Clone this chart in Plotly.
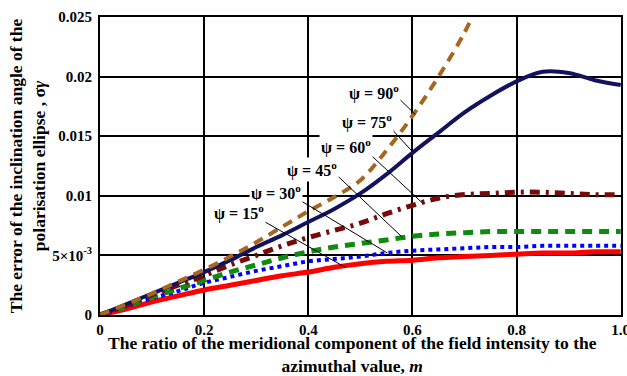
import plotly.graph_objects as go

m = [0, 0.05, 0.1, 0.15, 0.2, 0.25, 0.3, 0.35, 0.4, 0.45, 0.5, 0.55, 0.6, 0.65, 0.7, 0.75, 0.8, 0.85, 0.9, 0.95, 1.0]
m90 = [0, 0.05, 0.1, 0.15, 0.2, 0.25, 0.3, 0.35, 0.4, 0.45, 0.5, 0.55, 0.6, 0.65, 0.7, 0.73]
psi90 = [0, 0.0009, 0.0018, 0.0028, 0.0038, 0.0049, 0.0061, 0.0074, 0.0087, 0.0099, 0.0113, 0.0138, 0.0167, 0.0200, 0.0237, 0.0265]
psi75 = [0, 0.0009, 0.0018, 0.0027, 0.0036, 0.0046, 0.0057, 0.0067, 0.0078, 0.0089, 0.0102, 0.0118, 0.0136, 0.0153, 0.0170, 0.0184, 0.0196, 0.0204, 0.0203, 0.0197, 0.0193]
psi60 = [0, 0.0008, 0.0017, 0.0025, 0.0033, 0.0042, 0.0050, 0.0058, 0.0065, 0.0071, 0.0077, 0.0085, 0.0092, 0.0098, 0.0101, 0.0102, 0.0103, 0.0103, 0.0102, 0.0101, 0.0101]
psi45 = [0, 0.0007, 0.0015, 0.0022, 0.0029, 0.0036, 0.0042, 0.0048, 0.0053, 0.0057, 0.0060, 0.0063, 0.0066, 0.0068, 0.0069, 0.0070, 0.0070, 0.0070, 0.0070, 0.0070, 0.0070]
psi30 = [0, 0.0007, 0.0014, 0.0020, 0.0027, 0.0032, 0.0037, 0.0041, 0.0045, 0.0047, 0.0049, 0.0052, 0.0054, 0.0055, 0.0056, 0.0057, 0.0057, 0.0058, 0.0058, 0.0058, 0.0058]
psi15 = [0, 0.0005, 0.0011, 0.0016, 0.0021, 0.0025, 0.0029, 0.0033, 0.0036, 0.0040, 0.0043, 0.0045, 0.0046, 0.0048, 0.0049, 0.0050, 0.0051, 0.0052, 0.0052, 0.0053, 0.0053]

x_ticks = [0, 0.2, 0.4, 0.6, 0.8, 1.0]
x_ticktext = ["0", "0.2", "0.4", "0.6", "0.8", "1.0"]
y_ticks = [0, 0.005, 0.01, 0.015, 0.02, 0.025]
y_ticktext = ["0", "5×10<sup>-3</sup>", "0.01", "0.015", "0.02", "0.025"]

labels = ["ψ = 90<sup>o</sup>", "ψ = 75<sup>o</sup>", "ψ = 60<sup>o</sup>",
          "ψ = 45<sup>o</sup>", "ψ = 30<sup>o</sup>", "ψ = 15<sup>o</sup>"]
label_m = [0.527, 0.513, 0.473, 0.408, 0.338, 0.267]
label_v = [0.0187, 0.0162, 0.0141, 0.0122, 0.0103, 0.0086]
lead_start_m = [0.573, 0.558, 0.523, 0.458, 0.385, 0.317]
lead_start_v = [0.0182, 0.0157, 0.0133, 0.0116, 0.0096, 0.0078]
lead_end_m = [0.606, 0.600, 0.619, 0.581, 0.552, 0.471]
lead_end_v = [0.0168, 0.0137, 0.0094, 0.0065, 0.0052, 0.0040]

x_title = "<b>The ratio of the meridional component of the field intensity to the<br>azimuthal value, <i>m</i></b>"
y_title = "<b>The error of the inclination angle of the<br>polarisation ellipse , σ<i>γ</i></b>"

FONT = "Liberation Serif"

fig = go.Figure()
fig.add_trace(go.Scatter(x=m, y=psi15, mode="lines", line=dict(color="#FF0000", width=5, shape="spline"), showlegend=False))
fig.add_trace(go.Scatter(x=m, y=psi30, mode="lines", line=dict(color="#0000FF", width=4, dash="dot", shape="spline"), showlegend=False))
fig.add_trace(go.Scatter(x=m, y=psi45, mode="lines", line=dict(color="#108A10", width=5, dash="10px,7px", shape="spline"), showlegend=False))
fig.add_trace(go.Scatter(x=m, y=psi60, mode="lines", line=dict(color="#7A0A0A", width=5, dash="10px,6px,3px,6px", shape="spline"), showlegend=False))
fig.add_trace(go.Scatter(x=m, y=psi75, mode="lines", line=dict(color="#12125E", width=4, shape="spline"), showlegend=False))
fig.add_trace(go.Scatter(x=m90, y=psi90, mode="lines", line=dict(color="#A8651F", width=4, dash="10px,7px", shape="spline"), showlegend=False))

for i in range(len(labels)):
    fig.add_shape(type="line", xref="x", yref="y",
                  x0=lead_start_m[i], y0=lead_start_v[i], x1=lead_end_m[i], y1=lead_end_v[i],
                  line=dict(color="black", width=1))
    fig.add_annotation(x=label_m[i], y=label_v[i], xref="x", yref="y", text="<b>" + labels[i] + "</b>",
                       showarrow=False, bgcolor="white", borderpad=1,
                       font=dict(family=FONT, size=16, color="black"))

# x-axis title placed as a paper annotation for exact vertical placement
fig.add_annotation(x=0.485, y=-0.058, xref="paper", yref="paper", xanchor="center", yanchor="top",
                   text=x_title, showarrow=False, align="center", borderpad=0,
                   font=dict(family=FONT, size=17.5, color="black"))

axis_font = dict(family=FONT, size=15, color="black")
fig.update_xaxes(range=[0, 1.0005], tickvals=x_ticks, ticktext=["<b>" + t + "</b>" for t in x_ticktext],
                 showgrid=True, gridcolor="black", gridwidth=2, zeroline=False,
                 showline=True, linecolor="black", linewidth=2, mirror=True,
                 ticks="", tickfont=axis_font, automargin=False, ticklabeloverflow="allow")
fig.update_yaxes(range=[0, 0.025], tickvals=y_ticks, ticktext=["<b>" + t + "</b>" for t in y_ticktext],
                 showgrid=True, gridcolor="black", gridwidth=2, zeroline=False,
                 showline=True, linecolor="black", linewidth=2, mirror=True,
                 ticks="", tickfont=axis_font, automargin=False, ticklabelstandoff=3,
                 title=dict(text=y_title, font=dict(family=FONT, size=17.5, color="black"), standoff=2))
fig.update_layout(width=627, height=376, margin=dict(l=100, r=6, t=17, b=61),
                  plot_bgcolor="white", paper_bgcolor="white")
fig.write_html("out.html", config={"displayModeBar": False},
               post_script="document.body.style.margin='0';")
